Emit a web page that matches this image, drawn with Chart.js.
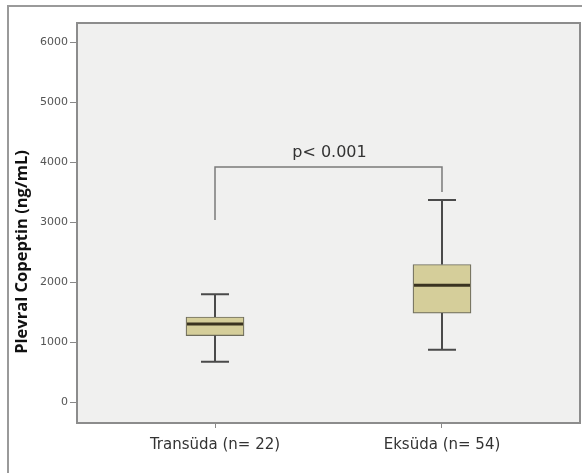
<!DOCTYPE html>
<html lang="tr">
<head>
<meta charset="UTF-8">
<title>Plevral Copeptin</title>
<script src="https://cdn.jsdelivr.net/npm/chart.js"></script>
<style>
    body { margin: 0; background: #fff; }
    #wrap { position: relative; width: 582px; height: 473px; overflow: hidden; }
    #frame { position: absolute; left: 7px; top: 5px; right: -10px; bottom: -10px;
             border-top: 2px solid #9a9a9a; border-left: 2px solid #9a9a9a; }
    canvas { position: absolute; left: 0; top: 0; }
</style>
</head>
<body>
<div id="wrap">
    <div id="frame"></div>
    <canvas id="chart" width="582" height="473"></canvas>
</div>
<script>
const categories = ['Transüda (n= 22)', 'Eksüda (n= 54)'];
const positions = [1, 2];
const mins = [680, 880];
const q1 = [1115, 1490];
const medians = [1310, 1955];
const q3 = [1425, 2300];
const maxs = [1805, 3375];
const yTicks = [0, 1000, 2000, 3000, 4000, 5000, 6000];
const yTitle = 'Plevral Copeptin (ng/mL)';

// significance bracket (data units)
const pText = 'p< 0.001';
const bracketTop = 3925;
const bracketEnds = [3040, 3510];

const boxPlugin = {
    id: 'boxes',
    beforeDatasetsDraw(chart) {
        const { ctx, chartArea: a } = chart;
        ctx.save();
        ctx.fillStyle = '#f0f0ef';
        ctx.fillRect(a.left, a.top, a.right - a.left, a.bottom - a.top);
        ctx.restore();
    },
    afterDatasetsDraw(chart) {
        const { ctx, chartArea: a } = chart;
        const x = chart.scales.x, y = chart.scales.y;
        ctx.save();
        // whiskers
        ctx.strokeStyle = '#4a4a4a';
        ctx.lineWidth = 2;
        positions.forEach((p, i) => {
            const cx = Math.round(x.getPixelForValue(p));
            ctx.beginPath();
            ctx.moveTo(cx, y.getPixelForValue(q3[i]));
            ctx.lineTo(cx, y.getPixelForValue(maxs[i]));
            ctx.moveTo(cx, y.getPixelForValue(q1[i]));
            ctx.lineTo(cx, y.getPixelForValue(mins[i]));
            ctx.moveTo(cx - 14, y.getPixelForValue(maxs[i]));
            ctx.lineTo(cx + 14, y.getPixelForValue(maxs[i]));
            ctx.moveTo(cx - 14, y.getPixelForValue(mins[i]));
            ctx.lineTo(cx + 14, y.getPixelForValue(mins[i]));
            ctx.stroke();
        });
        // medians
        ctx.strokeStyle = '#3a3320';
        ctx.lineWidth = 3;
        positions.forEach((p, i) => {
            const cx = x.getPixelForValue(p);
            const my = y.getPixelForValue(medians[i]);
            ctx.beginPath();
            ctx.moveTo(cx - 28, my);
            ctx.lineTo(cx + 28, my);
            ctx.stroke();
        });
        // bracket
        const lx = x.getPixelForValue(positions[0]);
        const rx = x.getPixelForValue(positions[1]);
        const ty = y.getPixelForValue(bracketTop);
        ctx.strokeStyle = '#7a7a7a';
        ctx.lineWidth = 1.5;
        ctx.beginPath();
        ctx.moveTo(lx, y.getPixelForValue(bracketEnds[0]));
        ctx.lineTo(lx, ty);
        ctx.lineTo(rx, ty);
        ctx.lineTo(rx, y.getPixelForValue(bracketEnds[1]));
        ctx.stroke();
        ctx.fillStyle = '#333';
        ctx.font = '16px "DejaVu Sans"';
        ctx.textAlign = 'center';
        ctx.textBaseline = 'bottom';
        ctx.fillText(pText, (lx + rx) / 2 + 1, ty - 6);
        // plot frame
        ctx.strokeStyle = '#8c8c8c';
        ctx.lineWidth = 2;
        ctx.strokeRect(a.left, a.top, a.right - a.left, a.bottom - a.top);
        ctx.restore();
    },
    afterDraw(chart) {
        const ctx = chart.ctx;
        ctx.save();
        ctx.translate(22, 252);
        ctx.rotate(-Math.PI / 2);
        ctx.fillStyle = '#111';
        ctx.font = 'bold 16.5px "Open Sans"';
        ctx.textAlign = 'center';
        ctx.textBaseline = 'middle';
        ctx.fillText(yTitle, 0, 0);
        ctx.restore();
    }
};

new Chart(document.getElementById('chart'), {
    type: 'bar',
    data: {
        datasets: [{
            data: positions.map((p, i) => ({ x: p, y: [q1[i], q3[i]] })),
            backgroundColor: '#d5ce9a',
            borderColor: '#6e6c5c',
            borderWidth: 1.2,
            borderSkipped: false,
            barThickness: 58
        }]
    },
    options: {
        responsive: false,
        animation: false,
        layout: { padding: { top: 23, right: 2, left: 0, bottom: 0 } },
        plugins: { legend: { display: false }, tooltip: { enabled: false } },
        scales: {
            x: {
                type: 'linear',
                offset: false,
                min: 0.392,
                max: 2.608,
                afterBuildTicks: s => { s.ticks = positions.map(v => ({ value: v })); },
                afterFit: s => { s.height = 50; },
                ticks: {
                    callback: v => categories[positions.indexOf(v)],
                    color: '#333',
                    font: { family: 'DejaVu Sans', size: 15 },
                    padding: 8
                },
                grid: { offset: false, drawOnChartArea: false, drawTicks: true, tickLength: 5, color: '#888' },
                border: { display: false }
            },
            y: {
                min: -342,
                max: 6325,
                afterBuildTicks: s => { s.ticks = yTicks.map(v => ({ value: v })); },
                afterFit: s => { s.width = 77; },
                ticks: {
                    callback: v => String(v),
                    color: '#555',
                    font: { family: 'DejaVu Sans', size: 11 },
                    padding: 2
                },
                grid: { drawOnChartArea: false, drawTicks: true, tickLength: 7, color: '#888' },
                border: { display: false }
            }
        }
    },
    plugins: [boxPlugin]
});
</script>
</body>
</html>
